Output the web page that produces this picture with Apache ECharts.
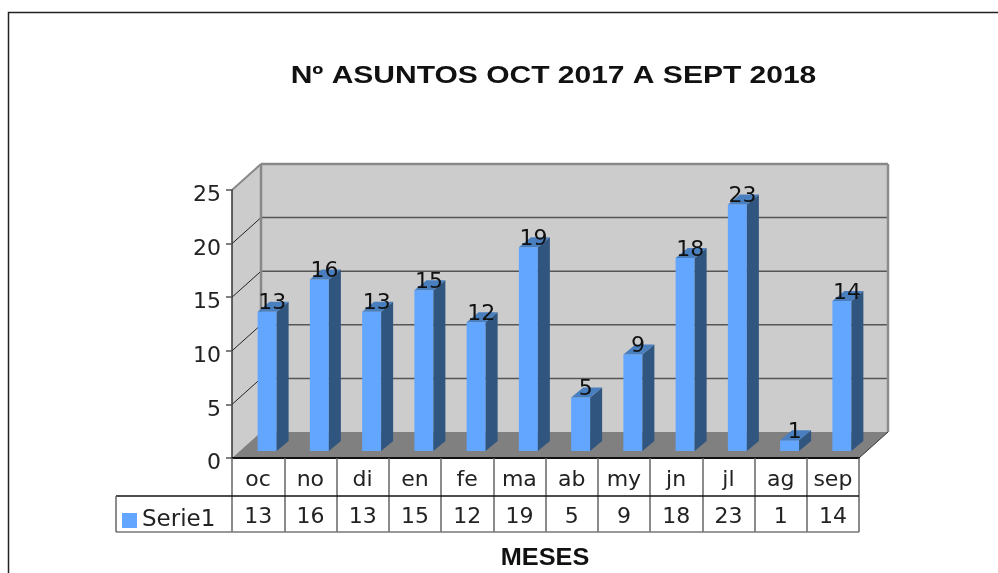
<!DOCTYPE html>
<html>
<head>
<meta charset="utf-8">
<style>
  html, body { margin: 0; padding: 0; background: #fff; }
  #chart { width: 998px; height: 573px; }
</style>
<script src="https://cdn.jsdelivr.net/npm/echarts@6/dist/echarts.min.js"></script>
</head>
<body>
<div id="chart"></div>
<script>
var months = ['oc', 'no', 'di', 'en', 'fe', 'ma', 'ab', 'my', 'jn', 'jl', 'ag', 'sep'];
var values = [13, 16, 13, 15, 12, 19, 5, 9, 18, 23, 1, 14];
var yTicks = [0, 5, 10, 15, 20, 25];
var seriesName = 'Serie1';
var chartTitle = 'Nº ASUNTOS OCT 2017 A SEPT 2018';
var xName = 'MESES';

var font = '"DejaVu Sans", Verdana, sans-serif';
var titleFont = '"Liberation Sans", Arial, sans-serif';
var blue = '#62a6ff';

// pseudo 3D: pixel shift from the front plane to the back wall / the bars
var depthX = 29, depthY = 26;
var barX = 9, barY = 7;
var sideX = 12, sideY = 10;
var barW = 19;

function poly(points, color) {
  return { type: 'polygon', shape: { points: points }, style: { fill: color } };
}
function seg(a, b, color, width) {
  return {
    type: 'line',
    shape: { x1: a[0], y1: a[1], x2: b[0], y2: b[1] },
    style: { stroke: color, lineWidth: width }
  };
}

function renderWalls(params, api) {
  var n = months.length;
  var o = api.coord([0, 0]);
  var step = api.size([1, 0])[0];
  var left = o[0] - step / 2;
  var right = left + step * n;
  var bottom = o[1];
  var top = api.coord([0, 25])[1];
  var kids = [
    poly([[left + depthX, top - depthY], [right + depthX, top - depthY], [right + depthX, bottom - depthY], [left + depthX, bottom - depthY]], '#cccccc'),
    poly([[left, top], [left + depthX, top - depthY], [left + depthX, bottom - depthY], [left, bottom]], '#cccccc'),
    poly([[left, bottom], [left + depthX, bottom - depthY], [right + depthX, bottom - depthY], [right, bottom]], '#808080')
  ];
  yTicks.forEach(function(t) {
    var y = api.coord([0, t])[1];
    if (t > 0 && t < 25) {
      kids.push(seg([left, y], [left + depthX, y - depthY], '#222222', 1));
      kids.push(seg([left + depthX, y - depthY], [right + depthX, y - depthY], '#555555', 1.5));
    }
  });
  kids.push(seg([left, top], [left + depthX, top - depthY], '#888888', 2));
  kids.push(seg([left + depthX, top - depthY], [right + depthX, top - depthY], '#888888', 2.5));
  kids.push(seg([right + depthX, top - depthY], [right + depthX, bottom - depthY], '#8c8c8c', 2.5));
  kids.push(seg([left + depthX, top - depthY], [left + depthX, bottom - depthY], '#888888', 2.5));
  kids.push(seg([right, bottom], [right + depthX, bottom - depthY], '#333333', 1));
  return { type: 'group', children: kids };
}

function renderBar(params, api) {
  var i = api.value(0);
  var v = api.value(1);
  var t = api.coord([i, v]);
  var b = api.coord([i, 0]);
  var x0 = t[0] + barX - barW / 2;
  var x1 = x0 + barW;
  var yT = t[1] - barY;
  var yB = b[1] - barY;
  return {
    type: 'group',
    children: [
      poly([[x0, yT], [x1, yT], [x1, yB], [x0, yB]], api.visual('color')),
      poly([[x1, yT], [x1 + sideX, yT - sideY], [x1 + sideX, yB - sideY], [x1, yB]], '#30557f'),
      poly([[x0, yT], [x0 + sideX, yT - sideY], [x1 + sideX, yT - sideY], [x1, yT]], '#4a7fbf'),
      {
        type: 'text',
        style: {
          x: x0 + (barW + sideX) / 2 - 1,
          y: yT - sideY + 2,
          text: String(v),
          fill: '#111111',
          font: '22px ' + font,
          textAlign: 'center',
          textVerticalAlign: 'middle'
        }
      }
    ]
  };
}

var chart = echarts.init(document.getElementById('chart'), null, { renderer: 'canvas' });
chart.setOption({
  animation: false,
  backgroundColor: '#ffffff',
  textStyle: { fontFamily: font },
  legend: {
    data: [seriesName],
    left: 117, top: 504,
    icon: 'rect',
    itemWidth: 15, itemHeight: 15, itemGap: 9,
    textStyle: { fontFamily: font, fontSize: 23, color: '#222222' }
  },
  grid: { left: 232, right: 139, top: 190, bottom: 115 },
  xAxis: [
    {
      type: 'category',
      data: months,
      z: 5,
      axisLine: { lineStyle: { color: '#111111', width: 2 } },
      axisTick: { show: true, alignWithLabel: false, interval: 0, length: 74, lineStyle: { color: '#666666', width: 1.5 } },
      axisLabel: { color: '#222222', fontSize: 22, margin: 11, interval: 0 }
    },
    {
      type: 'category',
      position: 'bottom',
      offset: 38,
      data: values.map(String),
      axisLine: { show: false },
      axisTick: { show: false },
      axisLabel: { color: '#222222', fontSize: 22, margin: 10, interval: 0 }
    }
  ],
  yAxis: {
    type: 'value',
    min: 0, max: 25, interval: 5,
    z: 5,
    splitLine: { show: false },
    axisLine: { show: true, lineStyle: { color: '#333333', width: 1.5 } },
    axisTick: { show: true, length: 6, lineStyle: { color: '#555555', width: 1.5 } },
    axisLabel: { color: '#222222', fontSize: 22, margin: 11, verticalAlign: 'top', lineHeight: 11 }
  },
  series: [
    {
      type: 'custom',
      silent: true,
      z: 1,
      renderItem: renderWalls,
      data: [[0, 0]],
      encode: { x: 0, y: 1 }
    },
    {
      type: 'custom',
      name: seriesName,
      z: 2,
      itemStyle: { color: blue },
      renderItem: renderBar,
      data: values.map(function(v, i) { return [i, v]; }),
      encode: { x: 0, y: 1 }
    }
  ],
  graphic: [
    { type: 'rect', silent: true, shape: { x: 8.5, y: 12.5, width: 1100, height: 700 }, style: { fill: 'none', stroke: '#222222', lineWidth: 1.5 } },
    { type: 'line', silent: true, z: 6, shape: { x1: 116, y1: 496, x2: 859, y2: 496 }, style: { stroke: '#111111', lineWidth: 1.5 } },
    { type: 'line', silent: true, z: 6, shape: { x1: 116, y1: 532, x2: 859, y2: 532 }, style: { stroke: '#777777', lineWidth: 1.5 } },
    { type: 'line', silent: true, z: 6, shape: { x1: 116, y1: 496, x2: 116, y2: 532 }, style: { stroke: '#666666', lineWidth: 1.5 } },
    // reference text is stretched sideways, so the titles are scaled text
    {
      type: 'text', silent: true, x: 553.5, y: 76, scaleX: 1.25,
      style: { text: chartTitle, fill: '#111111', font: 'bold 24px ' + titleFont, textAlign: 'center', textVerticalAlign: 'middle' }
    },
    {
      type: 'text', silent: true, x: 545, y: 559, scaleX: 1.1,
      style: { text: xName, fill: '#111111', font: 'bold 23px ' + titleFont, textAlign: 'center', textVerticalAlign: 'middle' }
    }
  ]
});
window.addEventListener('resize', function() { chart.resize(); });
</script>
</body>
</html>
